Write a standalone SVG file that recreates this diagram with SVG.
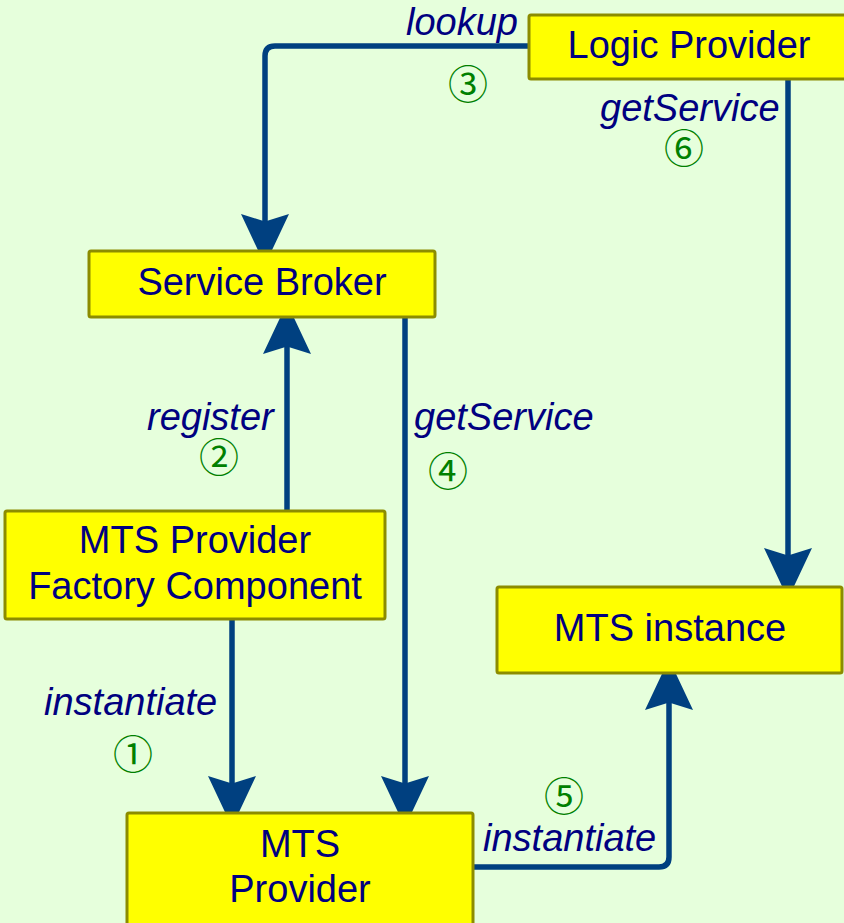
<svg xmlns="http://www.w3.org/2000/svg" width="844" height="923" viewBox="0 0 844 923">
  <style>
    .box { fill: #ffff00; stroke: #8c8c00; stroke-width: 3; }
    .name { font-family: "Liberation Sans", Arial, sans-serif; font-size: 38px; fill: #000080; text-anchor: middle; }
    .label { font-family: "Liberation Sans", Arial, sans-serif; font-size: 38px; font-style: italic; fill: #000080; }
    .step { font-family: "DejaVu Serif", "Noto Sans CJK JP", serif; font-size: 40px; fill: #008000; text-anchor: middle; dominant-baseline: central; }
    .link { fill: none; stroke: #004080; stroke-width: 5.5; stroke-linecap: round; stroke-linejoin: round; }
  </style>
  <defs>
    <marker id="head" markerUnits="userSpaceOnUse" markerWidth="60" markerHeight="60" viewBox="-10 -20 40 40" refX="0" refY="0" orient="auto" overflow="visible">
      <path d="M28,0 L-6,-16 L-1,0 L-6,16 Z" fill="#004080"/>
    </marker>
  </defs>

  <rect x="0" y="0" width="844" height="923" fill="#e6ffdc"/>

  <!-- connectors -->
  <g id="connectors">
    <path class="link" d="M530,46 H275 Q265,46 265,56 V223" marker-end="url(#head)"/>
    <path class="link" d="M788,79 V557" marker-end="url(#head)"/>
    <path class="link" d="M287,510 V345" marker-end="url(#head)"/>
    <path class="link" d="M405,318 V785" marker-end="url(#head)"/>
    <path class="link" d="M232,620 V785" marker-end="url(#head)"/>
    <path class="link" d="M473,867 H659 Q669,867 669,857 V701" marker-end="url(#head)"/>

    <text class="label" x="406" y="35">lookup</text>
    <text class="step" x="468" y="85">③</text>
    <text class="label" x="600" y="121">getService</text>
    <text class="step" x="684" y="149">⑥</text>
    <text class="label" x="147" y="430">register</text>
    <text class="step" x="219" y="458">②</text>
    <text class="label" x="414" y="430">getService</text>
    <text class="step" x="448" y="472">④</text>
    <text class="label" x="44" y="715">instantiate</text>
    <text class="step" x="133" y="755">①</text>
    <text class="step" x="564" y="797">⑤</text>
    <text class="label" x="483" y="851">instantiate</text>
  </g>

  <!-- nodes -->
  <g id="logic-provider">
    <rect class="box" x="529" y="15" width="322" height="64" rx="2"/>
    <text class="name" x="689" y="58">Logic Provider</text>
  </g>
  <g id="service-broker">
    <rect class="box" x="89" y="251" width="346" height="66" rx="2"/>
    <text class="name" x="262" y="295">Service Broker</text>
  </g>
  <g id="mts-provider-factory">
    <rect class="box" x="5" y="511" width="380" height="108" rx="2"/>
    <text class="name" x="195" y="553">MTS Provider</text>
    <text class="name" x="195" y="599">Factory Component</text>
  </g>
  <g id="mts-instance">
    <rect class="box" x="497" y="587" width="345" height="86" rx="2"/>
    <text class="name" x="670" y="641">MTS instance</text>
  </g>
  <g id="mts-provider">
    <rect class="box" x="127" y="813" width="346" height="115" rx="2"/>
    <text class="name" x="300" y="857">MTS</text>
    <text class="name" x="300" y="902">Provider</text>
  </g>
</svg>
